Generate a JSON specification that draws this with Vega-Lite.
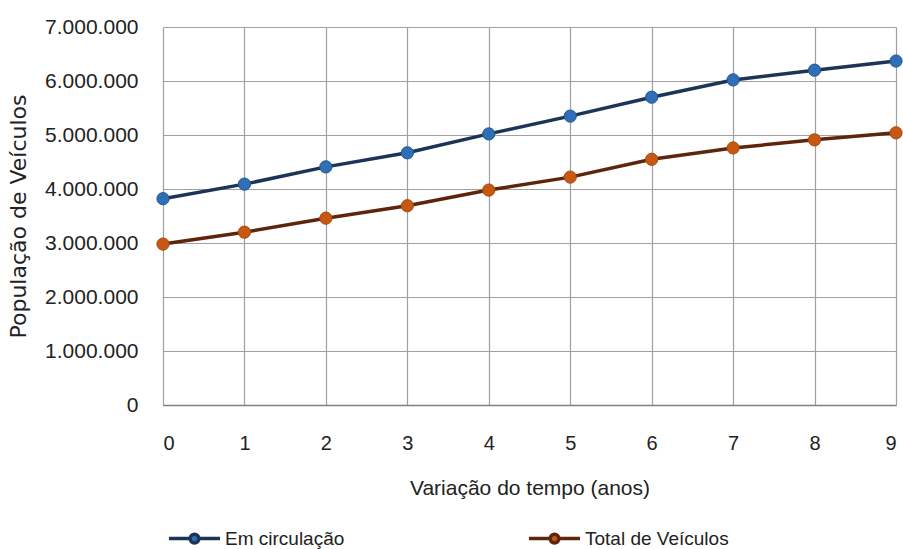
{
  "$schema": "https://vega.github.io/schema/vega-lite/v6.json",
  "width": 733,
  "height": 378,
  "autosize": "none",
  "padding": {"left": 163, "top": 27, "right": 7, "bottom": 144},
  "background": "white",
  "config": {
    "locale": {"number": {"decimal": ",", "thousands": ".", "grouping": [3], "currency": ["R$", ""]}},
    "view": {"stroke": null}
  },
  "data": {
    "values": [
      {"t": 0, "serie": "Em circulação", "v": 3820000},
      {"t": 1, "serie": "Em circulação", "v": 4090000},
      {"t": 2, "serie": "Em circulação", "v": 4410000},
      {"t": 3, "serie": "Em circulação", "v": 4670000},
      {"t": 4, "serie": "Em circulação", "v": 5020000},
      {"t": 5, "serie": "Em circulação", "v": 5350000},
      {"t": 6, "serie": "Em circulação", "v": 5700000},
      {"t": 7, "serie": "Em circulação", "v": 6020000},
      {"t": 8, "serie": "Em circulação", "v": 6200000},
      {"t": 9, "serie": "Em circulação", "v": 6370000},
      {"t": 0, "serie": "Total de Veículos", "v": 2980000},
      {"t": 1, "serie": "Total de Veículos", "v": 3200000},
      {"t": 2, "serie": "Total de Veículos", "v": 3460000},
      {"t": 3, "serie": "Total de Veículos", "v": 3690000},
      {"t": 4, "serie": "Total de Veículos", "v": 3980000},
      {"t": 5, "serie": "Total de Veículos", "v": 4220000},
      {"t": 6, "serie": "Total de Veículos", "v": 4550000},
      {"t": 7, "serie": "Total de Veículos", "v": 4760000},
      {"t": 8, "serie": "Total de Veículos", "v": 4910000},
      {"t": 9, "serie": "Total de Veículos", "v": 5040000}
    ]
  },
  "encoding": {
    "x": {
      "field": "t", "type": "quantitative",
      "scale": {"domain": [0, 9], "nice": false, "zero": false},
      "axis": {
        "title": "Variação do tempo (anos)",
        "values": [0,1,2,3,4,5,6,7,8,9],
        "format": "d",
        "grid": true, "gridColor": "#a0a0a0", "gridWidth": 1.2,
        "domain": true, "domainColor": "#808080", "domainWidth": 1.5,
        "ticks": false,
        "labelFont": "Liberation Sans", "labelFontSize": 20, "labelColor": "#222222",
        "labelPadding": 28,
        "titleFont": "Liberation Sans", "titleFontSize": 21, "titleFontWeight": "normal", "titleColor": "#222222",
        "titlePadding": 24
      }
    },
    "y": {
      "field": "v", "type": "quantitative",
      "scale": {"domain": [0, 7000000], "nice": false},
      "axis": {
        "title": "População de Veículos",
        "values": [0,1000000,2000000,3000000,4000000,5000000,6000000,7000000],
        "format": ",d",
        "grid": true, "gridColor": "#a0a0a0", "gridWidth": 1.2,
        "domain": false,
        "ticks": false,
        "labelFont": "Liberation Sans", "labelFontSize": 21, "labelColor": "#222222",
        "labelPadding": 25,
        "titleFont": "DejaVu Sans", "titleFontSize": 22, "titleFontWeight": "normal", "titleColor": "#222222",
        "titlePadding": 14
      }
    }
  },
  "layer": [
    {
      "mark": {"type": "line", "strokeWidth": 3.5},
      "encoding": {
        "color": {
          "field": "serie", "type": "nominal",
          "scale": {"domain": ["Em circulação", "Total de Veículos"], "range": ["#1c3557", "#5e250c"]},
          "legend": {
            "title": null,
            "orient": "none",
            "legendX": 4,
            "legendY": 484,
            "direction": "horizontal",
            "columns": 2,
            "columnPadding": 177,
            "symbolType": "M-1,0L-0.17,0M0.17,0L1,0M-0.17,0a0.17,0.17 0 1,0 0.34,0a0.17,0.17 0 1,0 -0.34,0Z",
            "symbolSize": 2600,
            "symbolStrokeWidth": 3.5,
            "labelFont": "Liberation Sans",
            "labelFontSize": 19,
            "labelColor": "#222222",
            "labelOffset": 3,
            "encode": {
              "symbols": {"update": {"fill": {"scale": "fill", "field": "value"}}}
            }
          }
        }
      }
    },
    {
      "mark": {"type": "point", "filled": true, "size": 150, "opacity": 1, "strokeWidth": 1},
      "encoding": {
        "fill": {
          "field": "serie", "type": "nominal",
          "scale": {"domain": ["Em circulação", "Total de Veículos"], "range": ["#2e6fb7", "#c65812"]},
          "legend": null
        },
        "stroke": {
          "field": "serie", "type": "nominal",
          "scale": {"domain": ["Em circulação", "Total de Veículos"], "range": ["#24558c", "#a34a10"]},
          "legend": null
        }
      }
    }
  ]
}
